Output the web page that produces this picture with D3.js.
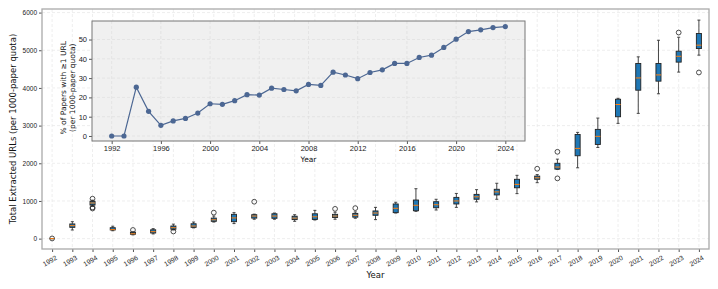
<!DOCTYPE html>
<html>
<head>
<meta charset="utf-8">
<script src="https://cdn.jsdelivr.net/npm/d3@7"></script>
<style>
  body { margin: 0; background: #fff; }
  svg { display: block; font-family: "DejaVu Sans", sans-serif; }
</style>
</head>
<body>
<svg id="chart"></svg>
<script>
// years 1992..2024
const years = d3.range(1992, 2025);

// box stats of total extracted URLs per year
const urlMin = [0, 230, 860, 210, 100, 125, 230, 285, 440, 400, 515, 515, 460, 495, 515, 540, 505, 680, 725, 760, 830, 975, 1045, 1195, 1485, 1840, 1880, 2420, 3060, 3325, 3845, 4420, 4870];
const urlQ1 = [0, 300, 893, 230, 117, 150, 250, 300, 460, 450, 545, 540, 505, 510, 560, 570, 620, 690, 740, 820, 920, 1045, 1160, 1350, 1575, 1845, 2200, 2500, 3235, 3940, 4180, 4685, 5045];
const urlMed = [0, 345, 946, 240, 130, 185, 290, 335, 500, 550, 600, 600, 545, 580, 600, 620, 680, 805, 885, 900, 1000, 1110, 1240, 1440, 1615, 1900, 2395, 2715, 3560, 4265, 4345, 4840, 5135];
const urlQ3 = [0, 390, 991, 290, 170, 235, 335, 395, 545, 645, 635, 660, 595, 660, 645, 670, 735, 920, 1025, 980, 1095, 1175, 1310, 1575, 1660, 2000, 2765, 2900, 3700, 4650, 4650, 4975, 5445];
const urlMax = [0, 450, 1020, 330, 180, 265, 385, 440, 600, 690, 650, 680, 635, 750, 700, 710, 830, 965, 1325, 1045, 1200, 1300, 1470, 1680, 1700, 2110, 2820, 3200, 3725, 4825, 5265, 5345, 5800];
const urlFliers = [[5], [], [1060, 800, 830], [], [230], [], [190], [], [690], [], [980], [], [], [], [790], [810], [], [], [], [], [], [], [], [], [1855], [2305, 1600], [], [], [], [], [], [5470], [4410]];

// inset: % of papers with at least one URL
const pctWithUrl = [0, 0, 25.3, 12.8, 5.5, 7.8, 9.1, 11.9, 16.7, 16.4, 18.3, 21.4, 21.2, 24.8, 24.1, 23.4, 26.7, 26.2, 33.1, 31.6, 29.7, 32.9, 34.3, 37.6, 37.6, 40.7, 41.9, 45.9, 50.2, 54.1, 55.0, 56.2, 56.7];

const yTicks = [0, 1000, 2000, 3000, 4000, 5000, 6000];
const insetYTicks = [0, 10, 20, 30, 40, 50];
const insetXTicks = [1992, 1996, 2000, 2004, 2008, 2012, 2016, 2020, 2024];

const W = 718, H = 289;
const svg = d3.select("#chart").attr("width", W).attr("height", H);

// ---- main box plot ----
const m = {left: 42, right: 709, top: 9, bottom: 249};
const x = d3.scaleLinear().domain([1991.5, 2024.5]).range([m.left, m.right]);
const y = d3.scaleLinear().domain([-275, 6095]).range([m.bottom, m.top]);

const grid = svg.append("g");
grid.selectAll(".gy").data(yTicks).join("line")
  .attr("x1", m.left).attr("x2", m.right)
  .attr("y1", d => y(d)).attr("y2", d => y(d))
  .attr("stroke", "#e6e6e6").attr("stroke-width", 0.7).attr("stroke-dasharray", "3,2");
grid.selectAll(".gx").data(years).join("line")
  .attr("x1", d => x(d)).attr("x2", d => x(d))
  .attr("y1", m.top).attr("y2", m.bottom)
  .attr("stroke", "#e6e6e6").attr("stroke-width", 0.7).attr("stroke-dasharray", "3,2");

const yAxis = svg.append("g").attr("transform", `translate(${m.left},0)`)
  .call(d3.axisLeft(y).tickValues(yTicks).tickSize(3).tickPadding(2).tickFormat(d3.format("d")));
yAxis.select(".domain").remove();
yAxis.selectAll("text").attr("font-size", 6.5).attr("fill", "#222");
yAxis.selectAll("line").attr("stroke", "#555");

const xAxis = svg.append("g").attr("transform", `translate(0,${m.bottom})`)
  .call(d3.axisBottom(x).tickValues(years).tickSize(3).tickFormat(d3.format("d")));
xAxis.select(".domain").remove();
xAxis.selectAll("line").attr("stroke", "#555");
xAxis.selectAll("text").attr("font-size", 6.8).attr("fill", "#222")
  .attr("text-anchor", "end").attr("dy", 0)
  .attr("transform", "translate(2,5) rotate(-30)");

svg.append("rect").attr("x", m.left).attr("y", m.top)
  .attr("width", m.right - m.left).attr("height", m.bottom - m.top)
  .attr("fill", "none").attr("stroke", "#aaa").attr("stroke-width", 1.3);

const bw = x(1992.25) - x(1992);
const cw = bw * 0.6;
const boxes = svg.append("g").selectAll("g").data(years).join("g");
boxes.append("line")
  .attr("x1", d => x(d)).attr("x2", d => x(d))
  .attr("y1", (d, i) => y(urlMax[i])).attr("y2", (d, i) => y(urlQ3[i]))
  .attr("stroke", "#333").attr("stroke-width", 0.9);
boxes.append("line")
  .attr("x1", d => x(d)).attr("x2", d => x(d))
  .attr("y1", (d, i) => y(urlQ1[i])).attr("y2", (d, i) => y(urlMin[i]))
  .attr("stroke", "#333").attr("stroke-width", 0.9);
boxes.append("line")
  .attr("x1", d => x(d) - cw / 2).attr("x2", d => x(d) + cw / 2)
  .attr("y1", (d, i) => y(urlMax[i])).attr("y2", (d, i) => y(urlMax[i]))
  .attr("stroke", "#333").attr("stroke-width", 0.9);
boxes.append("line")
  .attr("x1", d => x(d) - cw / 2).attr("x2", d => x(d) + cw / 2)
  .attr("y1", (d, i) => y(urlMin[i])).attr("y2", (d, i) => y(urlMin[i]))
  .attr("stroke", "#333").attr("stroke-width", 0.9);
boxes.append("rect")
  .attr("x", d => x(d) - bw / 2).attr("width", bw)
  .attr("y", (d, i) => y(urlQ3[i]))
  .attr("height", (d, i) => y(urlQ1[i]) - y(urlQ3[i]))
  .attr("fill", "#1f77b4").attr("stroke", "#222").attr("stroke-width", 0.9);
boxes.append("line")
  .attr("x1", d => x(d) - bw / 2).attr("x2", d => x(d) + bw / 2)
  .attr("y1", (d, i) => y(urlMed[i])).attr("y2", (d, i) => y(urlMed[i]))
  .attr("stroke", "#ff7f0e").attr("stroke-width", 1);
boxes.each(function(d, i) {
  d3.select(this).selectAll("circle").data(urlFliers[i]).join("circle")
    .attr("cx", x(d)).attr("cy", v => y(v)).attr("r", 2.4)
    .attr("fill", "none").attr("stroke", "#222").attr("stroke-width", 0.8);
});

svg.append("text").attr("x", (m.left + m.right) / 2).attr("y", 278)
  .attr("text-anchor", "middle").attr("font-size", 8.5).attr("fill", "#111").text("Year");
svg.append("text").attr("transform", `translate(16,${(m.top + m.bottom) / 2}) rotate(-90)`)
  .attr("text-anchor", "middle").attr("font-size", 8.5).attr("fill", "#111")
  .text("Total Extracted URLs (per 1000-paper quota)");

// ---- inset line chart ----
const im = {left: 92, right: 525, top: 21, bottom: 141};
const ix = d3.scaleLinear().domain([1990.4, 2025.6]).range([im.left, im.right]);
const iy = d3.scaleLinear().domain([-2.6, 59.6]).range([im.bottom, im.top]);

const inset = svg.append("g");
inset.append("rect").attr("x", im.left).attr("y", im.top)
  .attr("width", im.right - im.left).attr("height", im.bottom - im.top)
  .attr("fill", "#f0f0f0");
inset.selectAll(".igy").data(insetYTicks).join("line")
  .attr("x1", im.left).attr("x2", im.right)
  .attr("y1", d => iy(d)).attr("y2", d => iy(d))
  .attr("stroke", "#dcdcdc").attr("stroke-width", 0.6).attr("stroke-dasharray", "3,2");
inset.selectAll(".igx").data(insetXTicks).join("line")
  .attr("x1", d => ix(d)).attr("x2", d => ix(d))
  .attr("y1", im.top).attr("y2", im.bottom)
  .attr("stroke", "#dcdcdc").attr("stroke-width", 0.6).attr("stroke-dasharray", "3,2");

const iyAxis = inset.append("g").attr("transform", `translate(${im.left},0)`)
  .call(d3.axisLeft(iy).tickValues(insetYTicks).tickSize(3).tickPadding(2));
iyAxis.select(".domain").remove();
iyAxis.selectAll("text").attr("font-size", 7.5).attr("fill", "#222");
iyAxis.selectAll("line").attr("stroke", "#555");
const ixAxis = inset.append("g").attr("transform", `translate(0,${im.bottom})`)
  .call(d3.axisBottom(ix).tickValues(insetXTicks).tickSize(3).tickPadding(2).tickFormat(d3.format("d")));
ixAxis.select(".domain").remove();
ixAxis.selectAll("text").attr("font-size", 7.5).attr("fill", "#222");
ixAxis.selectAll("line").attr("stroke", "#555");

inset.append("rect").attr("x", im.left).attr("y", im.top)
  .attr("width", im.right - im.left).attr("height", im.bottom - im.top)
  .attr("fill", "none").attr("stroke", "#777").attr("stroke-width", 1);

const line = d3.line().x((d, i) => ix(years[i])).y(d => iy(d));
inset.append("path").datum(pctWithUrl)
  .attr("d", line).attr("fill", "none").attr("stroke", "#4c6793").attr("stroke-width", 1.2);
inset.selectAll(".pt").data(pctWithUrl).join("circle")
  .attr("cx", (d, i) => ix(years[i])).attr("cy", d => iy(d)).attr("r", 2.6)
  .attr("fill", "#4c6793");

inset.append("text").attr("x", (im.left + im.right) / 2).attr("y", 162)
  .attr("text-anchor", "middle").attr("font-size", 7.5).attr("fill", "#111").text("Year");
const iyl = inset.append("text")
  .attr("transform", `translate(66,${iy(25)}) rotate(-90)`)
  .attr("text-anchor", "middle").attr("font-size", 7.5).attr("fill", "#111");
iyl.append("tspan").attr("x", 0).attr("dy", 0).text("% of Papers with \u22651 URL");
iyl.append("tspan").attr("x", 0).attr("dy", 8.5).text("(per 1000-paper quota)");
</script>
</body>
</html>
